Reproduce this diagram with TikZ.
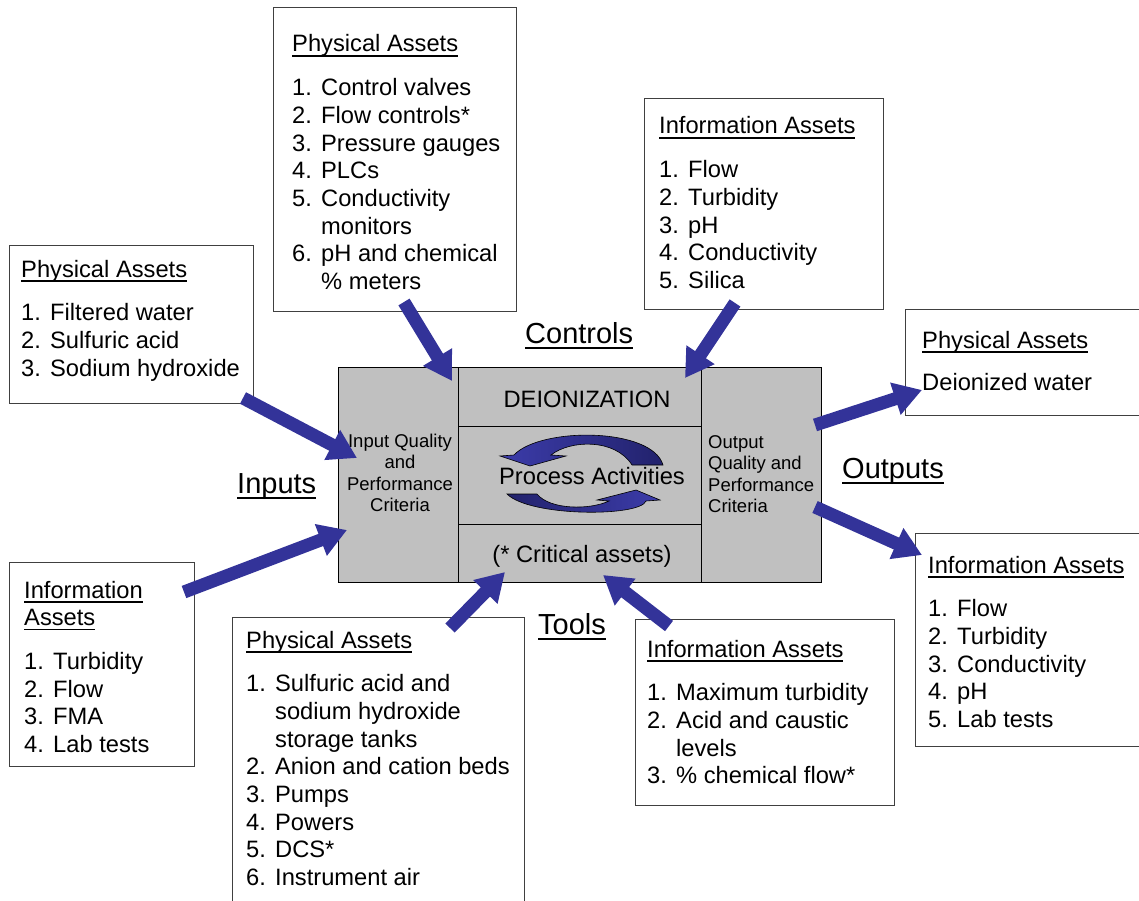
\documentclass[tikz,border=0pt]{standalone}
\usepackage{fontspec}
\setmainfont{Liberation Sans}
\usetikzlibrary{arrows.meta}
\definecolor{arrowblue}{HTML}{333399}
\definecolor{panelgray}{HTML}{C0C0C0}
\definecolor{boxline}{HTML}{404040}
\definecolor{cyclight}{HTML}{3C3CAA}
\definecolor{cycdark}{HTML}{22226C}
\newsavebox\ulbox
\newcommand\hul[1]{\sbox\ulbox{#1}\rlap{\rule[-4.6pt]{\wd\ulbox}{1.4pt}}\usebox\ulbox}
\newcommand\bul[1]{\sbox\ulbox{#1}\rlap{\rule[-6.2pt]{\wd\ulbox}{2pt}}\usebox\ulbox}
\newcommand\lnum[1]{\makebox[29pt][l]{#1}}
\begin{document}
\begin{tikzpicture}[x=1pt,y=-1pt,
  assetbox/.style={draw=boxline,line width=1.2pt,fill=white,inner sep=0pt,anchor=north west},
  panel/.style={draw=black,line width=1.3pt,fill=panelgray,inner sep=0pt,anchor=north west},
  listtext/.style={inner sep=0pt,anchor=base west,font=\fontsize{23.7}{27.7}\selectfont},
  smalltext/.style={inner sep=0pt,anchor=base,font=\fontsize{18.5}{21.6}\selectfont},
  midtext/.style={inner sep=0pt,anchor=base,font=\fontsize{23.7}{27.7}\selectfont},
  biglabel/.style={inner sep=0pt,anchor=base west,font=\fontsize{29}{34}\selectfont},
  blockarrow/.style={draw=arrowblue,line width=13pt,-{Triangle[length=28pt,width=32pt]}},
  cycarrow/.style={draw=black,line width=0.6pt},
]
\useasboundingbox (0,0) rectangle (1139,901);

% ---------- central process block ----------
\node[panel,minimum width=120pt,minimum height=215pt] (inpanel) at (338,367) {};
\node[panel,minimum width=120pt,minimum height=215pt] (outpanel) at (701,367) {};
\node[panel,minimum width=243pt,minimum height=59pt] (toppanel) at (458,367) {};
\node[panel,minimum width=243pt,minimum height=98pt] (midpanel) at (458,426) {};
\node[panel,minimum width=243pt,minimum height=58pt] (botpanel) at (458,524) {};

\node[midtext] (deion) at (587,407) {DEIONIZATION};
\node[midtext] (crit) at (582,562) {(* Critical assets)};

% cycle arrows
\shadedraw[cycarrow,left color=cyclight,right color=cycdark]
  (514,455) -- (500,456) -- (530,466) -- (566,456) -- (551,455)
  .. controls (570,440) and (615,438) .. (632,465) -- (663,465)
  .. controls (652,427) and (540,427) .. (514,455) -- cycle;
\shadedraw[cycarrow,left color=cycdark,right color=cyclight]
  (646,501) -- (660,500) -- (636,490) -- (597,500) -- (609,501)
  .. controls (590,510) and (550,510) .. (537,494) -- (507,494)
  .. controls (530,517) and (640,517) .. (646,501) -- cycle;
\node[midtext] (proc) at (592,484) {Process Activities};

\node[smalltext] (inq) at (400,447) {\begin{tabular}[t]{@{}c@{}}Input Quality\\and\\Performance\\Criteria\end{tabular}};
\node[smalltext,anchor=base west] (outq) at (708,448) {\begin{tabular}[t]{@{}l@{}}Output\\Quality and\\Performance\\Criteria\end{tabular}};

% ---------- big labels ----------
\node[biglabel] (controls) at (525,343) {\bul{Controls}};
\node[biglabel] (inputs) at (237,493) {\bul{Inputs}};
\node[biglabel] (outputs) at (842,478) {\bul{Outputs}};
\node[biglabel] (tools) at (538,634) {\bul{Tools}};

% ---------- asset boxes ----------
\node[assetbox,minimum width=243pt,minimum height=304pt] (boxA) at (273,7) {};
\node[listtext] (tA) at (292,52) {\begin{tabular}[t]{@{}l@{}l@{}}
\multicolumn{2}{@{}l@{}}{\hul{Physical Assets}}\\[16pt]
\lnum{1.} & Control valves\\
\lnum{2.} & Flow controls*\\
\lnum{3.} & Pressure gauges\\
\lnum{4.} & PLCs\\
\lnum{5.} & Conductivity\\
 & monitors\\
\lnum{6.} & pH and chemical\\
 & \% meters
\end{tabular}};

\node[assetbox,minimum width=244pt,minimum height=158pt] (boxB) at (9,245) {};
\node[listtext] (tB) at (21,277) {\begin{tabular}[t]{@{}l@{}l@{}}
\multicolumn{2}{@{}l@{}}{\hul{Physical Assets}}\\[16pt]
\lnum{1.} & Filtered water\\
\lnum{2.} & Sulfuric acid\\
\lnum{3.} & Sodium hydroxide
\end{tabular}};

\node[assetbox,minimum width=239pt,minimum height=211pt] (boxC) at (644,98) {};
\node[listtext] (tC) at (659,134) {\begin{tabular}[t]{@{}l@{}l@{}}
\multicolumn{2}{@{}l@{}}{\hul{Information Assets}}\\[16pt]
\lnum{1.} & Flow\\
\lnum{2.} & Turbidity\\
\lnum{3.} & pH\\
\lnum{4.} & Conductivity\\
\lnum{5.} & Silica
\end{tabular}};

\node[assetbox,minimum width=250pt,minimum height=106pt] (boxD) at (905,309) {};
\node[listtext] (tD) at (922,348) {\begin{tabular}[t]{@{}l@{}}
\hul{Physical Assets}\\[15pt]
Deionized water
\end{tabular}};

\node[assetbox,minimum width=240pt,minimum height=213pt] (boxE) at (915,533) {};
\node[listtext] (tE) at (928,573) {\begin{tabular}[t]{@{}l@{}l@{}}
\multicolumn{2}{@{}l@{}}{\hul{Information Assets}}\\[16pt]
\lnum{1.} & Flow\\
\lnum{2.} & Turbidity\\
\lnum{3.} & Conductivity\\
\lnum{4.} & pH\\
\lnum{5.} & Lab tests
\end{tabular}};

\node[assetbox,minimum width=185pt,minimum height=204pt] (boxF) at (9,562) {};
\node[listtext] (tF) at (24,598) {\begin{tabular}[t]{@{}l@{}l@{}}
\multicolumn{2}{@{}l@{}}{\hul{Information}}\\
\multicolumn{2}{@{}l@{}}{\hul{Assets}}\\[16pt]
\lnum{1.} & Turbidity\\
\lnum{2.} & Flow\\
\lnum{3.} & FMA\\
\lnum{4.} & Lab tests
\end{tabular}};

\node[assetbox,minimum width=292pt,minimum height=300pt] (boxG) at (232,617) {};
\node[listtext] (tG) at (246,648) {\begin{tabular}[t]{@{}l@{}l@{}}
\multicolumn{2}{@{}l@{}}{\hul{Physical Assets}}\\[16pt]
\lnum{1.} & Sulfuric acid and\\
 & sodium hydroxide\\
 & storage tanks\\
\lnum{2.} & Anion and cation beds\\
\lnum{3.} & Pumps\\
\lnum{4.} & Powers\\
\lnum{5.} & DCS*\\
\lnum{6.} & Instrument air
\end{tabular}};

\node[assetbox,minimum width=259pt,minimum height=186pt] (boxH) at (635,619) {};
\node[listtext] (tH) at (647,657) {\begin{tabular}[t]{@{}l@{}l@{}}
\multicolumn{2}{@{}l@{}}{\hul{Information Assets}}\\[16pt]
\lnum{1.} & Maximum turbidity\\
\lnum{2.} & Acid and caustic\\
 & levels\\
\lnum{3.} & \% chemical flow*
\end{tabular}};

% ---------- block arrows ----------
\coordinate (aTail) at (404,302);  \coordinate (aTip) at (452,381);
\coordinate (cTail) at (735,303);  \coordinate (cTip) at (685,378);
\coordinate (bTail) at (243,398);  \coordinate (bTip) at (357,458);
\coordinate (fTail) at (184,592);  \coordinate (fTip) at (347,530);
\coordinate (gTail) at (450,628);  \coordinate (gTip) at (505,572);
\coordinate (hTail) at (669,626);  \coordinate (hTip) at (603,575);
\coordinate (dTail) at (815,425);  \coordinate (dTip) at (922,390);
\coordinate (eTail) at (815,507);  \coordinate (eTip) at (922,555);

\draw[blockarrow] (aTail) -- (aTip);
\draw[blockarrow] (cTail) -- (cTip);
\draw[blockarrow] (bTail) -- (bTip);
\draw[blockarrow] (fTail) -- (fTip);
\draw[blockarrow] (gTail) -- (gTip);
\draw[blockarrow] (hTail) -- (hTip);
\draw[blockarrow] (dTail) -- (dTip);
\draw[blockarrow] (eTail) -- (eTip);
\end{tikzpicture}
\end{document}
